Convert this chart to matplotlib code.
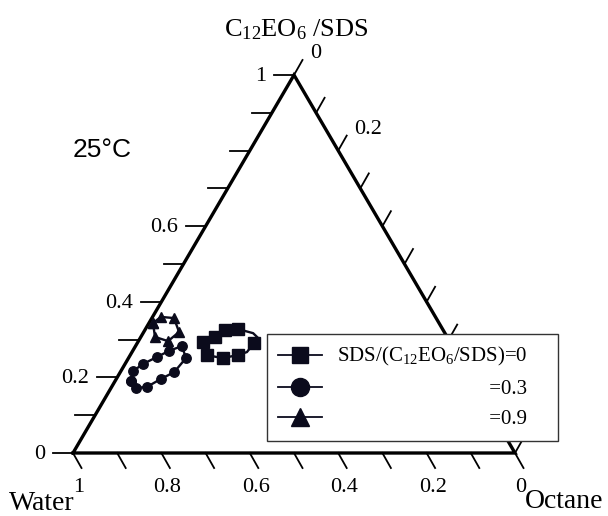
import matplotlib
matplotlib.use('Agg')
import matplotlib.pyplot as plt
from matplotlib.lines import Line2D

plt.rcParams['font.family'] = ['Liberation Serif', 'DejaVu Serif']
plt.rcParams['mathtext.fontset'] = 'stix'

# ---- data (surfactant fraction, octane fraction; water = 1 - surf - oil) ----
sq_surf = [0.294, 0.307, 0.325, 0.328, 0.291, 0.259, 0.251, 0.259]
sq_oil = [0.147, 0.168, 0.181, 0.209, 0.264, 0.243, 0.213, 0.173]
sq_line_surf = [0.294, 0.307, 0.325, 0.328, 0.317, 0.304, 0.291, 0.267, 0.259, 0.251, 0.259, 0.294]
sq_line_oil = [0.147, 0.168, 0.181, 0.209, 0.249, 0.267, 0.264, 0.260, 0.243, 0.213, 0.173, 0.147]

ci_surf = [0.190, 0.172, 0.175, 0.196, 0.214, 0.251, 0.283, 0.270, 0.254, 0.235, 0.217, 0.190]
ci_oil = [0.036, 0.057, 0.080, 0.101, 0.122, 0.130, 0.105, 0.082, 0.063, 0.040, 0.028, 0.036]

tr_surf = [0.344, 0.360, 0.357, 0.320, 0.296, 0.307, 0.344]
tr_oil = [0.009, 0.019, 0.050, 0.080, 0.067, 0.032, 0.009]

tick_values = [0.0, 0.1, 0.2, 0.3, 0.4, 0.5, 0.6, 0.7, 0.8, 0.9, 1.0]
left_label_values = [0.0, 0.2, 0.4, 0.6, 1.0]
left_labels = ['0', '0.2', '0.4', '0.6', '1']
bottom_water_values = [1.0, 0.8, 0.6, 0.4, 0.2, 0.0]
bottom_labels = ['1', '0.8', '0.6', '0.4', '0.2', '0']
right_oil_values = [0.0, 0.2]
right_labels = ['0', '0.2']

legend_labels = [r'SDS/(C$\mathregular{_{12}}$EO$\mathregular{_6}$/SDS)=0', '=0.3', '=0.9']

INK = '#0b0b1c'

def tx(surf, oil):
    return [o + s / 2 for s, o in zip(surf, oil)], list(surf)

fig = plt.figure(figsize=(6.08, 5.16), dpi=100)
ax = fig.add_axes([0, 0, 1, 1])
PX = 1 / 442.0
PY = 1 / 378.0
ax.set_xlim(-73 * PX, 535 * PX)
ax.set_ylim(-63 * PY, 1 + 75 * PY)
ax.axis('off')

# triangle frame
ax.plot([0, 1, 0.5, 0], [0, 0, 1, 0], color='k', lw=2.4, solid_joinstyle='miter', zorder=3)

# ticks
for v in tick_values:
    # left (surfactant): horizontal, pointing left
    ax.plot([v / 2, v / 2 - 20 * PX], [v, v], color='k', lw=1.3, zorder=2)
    # bottom (water): down-right
    ax.plot([v, v + 8.5 * PX], [0, -15 * PY], color='k', lw=1.3, zorder=2)
    # right (octane): up-right
    xr, yr = 0.5 + v / 2, 1 - v
    ax.plot([xr, xr + 8.5 * PX], [yr, yr + 15 * PY], color='k', lw=1.3, zorder=2)

for v, lab in zip(left_label_values, left_labels):
    ax.text(v / 2 - 28 * PX, v - 1.5 * PY, lab, ha='right', va='center', fontsize=16)
for w, lab in zip(bottom_water_values, bottom_labels):
    ax.text((1 - w) + 6 * PX, -34 * PY, lab, ha='center', va='center', fontsize=16)
for o, lab in zip(right_oil_values, right_labels):
    ax.text(0.5 + o / 2 + 16 * PX, 1 - o + 21 * PY, lab, ha='left', va='center', fontsize=16)

ax.text(0.5 + 2 * PX, 1 + 39 * PY, r'C$\mathregular{_{12}}$EO$\mathregular{_6}$ /SDS',
        ha='center', va='baseline', fontsize=19)
ax.text(0.0, (453 - 157) * PY, '25°C', ha='left', va='baseline', fontsize=19,
        family=['Liberation Sans', 'DejaVu Sans'])
ax.text((9 - 73) * PX, (453 - 510) * PY, 'Water', ha='left', va='baseline', fontsize=20)
ax.text((525 - 73) * PX, (453 - 508) * PY, 'Octane', ha='left', va='baseline', fontsize=20)

# data loops
x, y = tx(sq_line_surf, sq_line_oil)
ax.plot(x, y, color=INK, lw=1.7, zorder=4)
x, y = tx(sq_surf, sq_oil)
ax.plot(x, y, ls='none', marker='s', ms=8.8, color=INK, zorder=5)
x, y = tx(ci_surf, ci_oil)
ax.plot(x, y, color=INK, lw=1.7, marker='o', ms=6.8, zorder=5)
x, y = tx(tr_surf, tr_oil)
ax.plot(x, y, color=INK, lw=1.7, marker='^', ms=7.5, zorder=5)

handles = [
    Line2D([], [], color=INK, lw=1.3, marker='s', ms=11.5),
    Line2D([], [], color=INK, lw=1.3, marker='o', ms=13),
    Line2D([], [], color=INK, lw=1.3, marker='^', ms=13),
]
x0, y0 = 267 / 608, 1 - 440 / 516
w, h = (558 - 267) / 608, (440 - 334) / 516
leg = ax.legend(handles, legend_labels, loc='upper left', bbox_to_anchor=(x0, y0, w, h),
                bbox_transform=fig.transFigure, mode='expand', borderaxespad=0,
                fontsize=15, handlelength=2.1, handletextpad=0.7, borderpad=0.55,
                labelspacing=0.52, fancybox=False, framealpha=1, edgecolor='#333333')
leg.get_frame().set_linewidth(1.0)
leg.set_zorder(10)

fig.canvas.draw()
r = fig.canvas.get_renderer()
texts = leg.get_texts()
w0 = texts[0].get_window_extent(r).width
for t, lab in zip(texts[1:], legend_labels[1:]):
    n = 0
    while n < 80:
        t.set_text(' ' * (n + 1) + lab)
        if t.get_window_extent(r).width > w0:
            t.set_text(' ' * n + lab)
            break
        n += 1

fig.savefig('out.png', dpi=100)
